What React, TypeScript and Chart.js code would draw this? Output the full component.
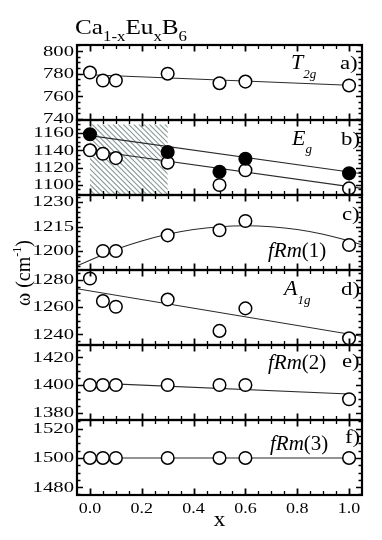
import React, { useEffect, useRef } from "react";
import { Chart, registerables } from "chart.js";

Chart.register(...registerables);

// ---------- data ----------
const xAll = [0, 0.05, 0.1, 0.3, 0.5, 0.6, 1.0];
const xC = [0.05, 0.1, 0.3, 0.5, 0.6, 1.0];
const xEgFilled = [0, 0.3, 0.5, 0.6, 1.0];

const t2g = [781, 774, 774, 780, 771.6, 773, 769.6];
const egFilled = [1158.5, 1138, 1115.3, 1130.3, 1113.4];
const egOpen = [1140, 1136, 1131, 1125.7, 1100, 1117, 1096];
const frm1 = [1200, 1200, 1209.6, 1212.7, 1218.4, 1203.7];
const a1g = [1281, 1264.4, 1260.2, 1265.5, 1242.4, 1259, 1236.9];
const frm2 = [1400, 1400, 1400, 1400, 1400, 1400, 1389.8];
const frm3 = [1500, 1500, 1500, 1500, 1500, 1500, 1500];

// fitted guide lines
const t2gFitX = [-0.05, 1.0];
const t2gFitY = [779.5, 769.8];
const egUpFitX = [0, 1.05];
const egUpFitY = [1157, 1113];
const egLowFitX = [0, 1.05];
const egLowFitY = [1140, 1096];
const frm1FitX = [-0.05, 0.1, 0.2, 0.3, 0.4, 0.5, 0.6, 0.7, 0.8, 0.9, 1.0, 1.05];
const frm1FitY = [1191, 1201, 1206.2, 1210.3, 1213.2, 1214.9, 1215.5, 1214.9, 1213.2, 1210.3, 1206.2, 1203.8];
const a1gFitX = [-0.05, 1.05];
const a1gFitY = [1273.5, 1238.5];
const frm2FitX = [0, 1.0];
const frm2FitY = [1401.5, 1393.5];
const frm3FitX = [0, 1.0];
const frm3FitY = [1500, 1500];

// hatched region in panel b
const hatchX = [0, 0.3];
const hatchY = [1088.4, 1170];

// axes
const xRange = [-0.05, 1.05];
const xTicks = [0, 0.2, 0.4, 0.6, 0.8, 1.0];
const xMinorStep = 0.05;

const panelIds = ["ya", "yb", "yc", "yd", "ye", "yf"];
const panelRanges = [
  [739, 805.4],
  [1088.4, 1175],
  [1188.4, 1234.3],
  [1232, 1287.3],
  [1374.9, 1428.7],
  [1474.6, 1526],
];
const panelTicks = [
  [740, 760, 780, 800],
  [1100, 1120, 1140, 1160],
  [1200, 1215, 1230],
  [1240, 1260, 1280],
  [1380, 1400, 1420],
  [1480, 1500, 1520],
];
const panelMinor = [5, 5, 3, 5, 5, 5];

const SERIF = '"Liberation Serif", "Times New Roman", serif';

type Seg = { t: string; size: number; italic?: boolean; dy?: number };

function drawSegs(ctx: CanvasRenderingContext2D, x: number, y: number, segs: Seg[], sx = 1) {
  let cx = x;
  ctx.textAlign = "left";
  ctx.textBaseline = "alphabetic";
  for (const s of segs) {
    ctx.font = `${s.italic ? "italic " : ""}${s.size}px ${SERIF}`;
    ctx.save();
    ctx.translate(cx, y + (s.dy || 0));
    ctx.scale(sx, 1);
    ctx.fillText(s.t, 0, 0);
    ctx.restore();
    cx += ctx.measureText(s.t).width * sx;
  }
}

const hatchPlugin = {
  id: "hatch",
  beforeDatasetsDraw(chart: any) {
    const ctx = chart.ctx as CanvasRenderingContext2D;
    const xs = chart.scales.x;
    const ys = chart.scales.yb;
    const x0 = xs.getPixelForValue(hatchX[0]);
    const x1 = xs.getPixelForValue(hatchX[1]);
    const y0 = ys.getPixelForValue(hatchY[1]);
    const y1 = ys.getPixelForValue(hatchY[0]);
    ctx.save();
    ctx.beginPath();
    ctx.rect(x0, y0, x1 - x0, y1 - y0);
    ctx.clip();
    ctx.strokeStyle = "#8c9a9a";
    ctx.lineWidth = 1.1;
    const h = y1 - y0;
    for (let s = x0 - h; s < x1 + 2; s += 5.2) {
      ctx.beginPath();
      ctx.moveTo(s, y0);
      ctx.lineTo(s + h, y1);
      ctx.stroke();
    }
    ctx.restore();
  },
  afterDraw(chart: any) {
    const ctx = chart.ctx as CanvasRenderingContext2D;
    const xs = chart.scales.x;
    const ys = chart.scales.yb;
    const x0 = xs.getPixelForValue(hatchX[0]);
    const x1 = xs.getPixelForValue(hatchX[1]);
    const y1 = ys.getPixelForValue(hatchY[0]);
    ctx.save();
    ctx.strokeStyle = "#9aa5a5";
    ctx.lineWidth = 1.4;
    ctx.beginPath();
    ctx.moveTo(x0, y1);
    ctx.lineTo(x1, y1);
    ctx.stroke();
    ctx.restore();
  },
};

const framePlugin = {
  id: "frame",
  afterDraw(chart: any) {
    const ctx = chart.ctx as CanvasRenderingContext2D;
    const xs = chart.scales.x;
    const left = chart.chartArea.left;
    const right = chart.chartArea.right;
    ctx.save();
    ctx.fillStyle = "#000";
    ctx.strokeStyle = "#000";
    panelIds.forEach((id, i) => {
      const s = chart.scales[id];
      const top = s.top;
      const bottom = s.bottom;
      const majors = panelTicks[i];
      const step = panelMinor[i];
      // y ticks (left & right, inward)
      ctx.lineWidth = 1.3;
      const start = Math.ceil(s.min / step) * step;
      for (let v = start; v <= s.max + 1e-6; v += step) {
        const major = majors.some((m) => Math.abs(m - v) < 1e-6);
        const len = major ? 6 : 3.5;
        const py = Math.round(s.getPixelForValue(v)) + 0.5;
        ctx.beginPath();
        ctx.moveTo(left, py);
        ctx.lineTo(left + len, py);
        ctx.moveTo(right, py);
        ctx.lineTo(right - len, py);
        ctx.stroke();
      }
      // x ticks (top & bottom, inward)
      for (let k = 0; k <= 20; k++) {
        const v = k * xMinorStep;
        const major = xTicks.some((m) => Math.abs(m - v) < 1e-6);
        const len = major ? 6.5 : 4;
        const px = Math.round(xs.getPixelForValue(v)) + 0.5;
        ctx.lineWidth = major ? 1.8 : 1.3;
        ctx.beginPath();
        ctx.moveTo(px, top);
        ctx.lineTo(px, top + len);
        ctx.moveTo(px, bottom);
        ctx.lineTo(px, bottom - len);
        ctx.stroke();
      }
      // frame
      ctx.lineWidth = 2.2;
      ctx.strokeRect(left, top, right - left, bottom - top);
      // y tick labels
      ctx.textAlign = "right";
      ctx.textBaseline = "middle";
      ctx.font = `15px ${SERIF}`;
      for (const t of s.ticks) {
        const py = s.getPixelForValue(t.value);
        ctx.save();
        ctx.translate(left - 3, py + 0.5);
        ctx.scale(1.38, 1);
        ctx.fillText(String(t.value), 0, 0);
        ctx.restore();
      }
    });
    // x tick labels
    ctx.textAlign = "center";
    ctx.textBaseline = "alphabetic";
    ctx.font = `15px ${SERIF}`;
    for (const t of xs.ticks) {
      const px = xs.getPixelForValue(t.value);
      ctx.save();
      ctx.translate(px, 513);
      ctx.scale(1.2, 1);
      ctx.fillText(t.value.toFixed(1), 0, 0);
      ctx.restore();
    }
    // x axis title
    ctx.save();
    ctx.translate(xs.getPixelForValue(0.5), 526);
    ctx.scale(1.15, 1);
    ctx.font = `20px ${SERIF}`;
    ctx.fillText("x", 0, 0);
    ctx.restore();

    // y axis title (rotated)
    ctx.save();
    ctx.translate(30, 306);
    ctx.rotate(-Math.PI / 2);
    drawSegs(ctx, 0, 0, [
      { t: "ω (cm", size: 20 },
      { t: "-1", size: 12, dy: -9 },
      { t: ")", size: 20 },
    ]);
    ctx.restore();

    // title
    drawSegs(ctx, 75, 34, [
      { t: "Ca", size: 21 },
      { t: "1-x", size: 14, dy: 7 },
      { t: "Eu", size: 21 },
      { t: "x", size: 14, dy: 7 },
      { t: "B", size: 21 },
      { t: "6", size: 14, dy: 7 },
    ], 1.2);

    // panel labels
    drawSegs(ctx, 291, 69, [
      { t: "T", size: 22, italic: true },
      { t: "2g", size: 13, italic: true, dy: 9 },
    ]);
    drawSegs(ctx, 292, 145, [
      { t: "E", size: 22, italic: true },
      { t: "g", size: 13, italic: true, dy: 8 },
    ]);
    drawSegs(ctx, 284, 295, [
      { t: "A", size: 22, italic: true },
      { t: "1g", size: 13, italic: true, dy: 9 },
    ]);
    drawSegs(ctx, 268, 257, [
      { t: "fRm", size: 20, italic: true },
      { t: "(1)", size: 20 },
    ], 1.05);
    drawSegs(ctx, 268, 369, [
      { t: "fRm", size: 20, italic: true },
      { t: "(2)", size: 20 },
    ], 1.05);
    drawSegs(ctx, 270, 450, [
      { t: "fRm", size: 20, italic: true },
      { t: "(3)", size: 20 },
    ], 1.05);
    const tags = [
      ["a)", 340, 69],
      ["b)", 341, 145],
      ["c)", 342, 220],
      ["d)", 341, 295],
      ["e)", 342, 367],
      ["f)", 345, 443],
    ] as const;
    for (const [t, x, y] of tags) drawSegs(ctx, x, y, [{ t, size: 19 }], 1.2);
    ctx.restore();
  },
};

function pts(xv: number[], yv: number[]) {
  return xv.map((x, i) => ({ x, y: yv[i] }));
}

function circles(label: string, axis: string, xv: number[], yv: number[], filled = false) {
  return {
    label,
    yAxisID: axis,
    data: pts(xv, yv),
    showLine: false,
    pointRadius: 6.3,
    pointBorderWidth: 1.5,
    pointBorderColor: "#000",
    pointBackgroundColor: filled ? "#000" : "#fff",
    order: filled ? 0 : 1,
  };
}

function fit(label: string, axis: string, xv: number[], yv: number[], smooth = false) {
  return {
    label,
    yAxisID: axis,
    data: pts(xv, yv),
    showLine: true,
    pointRadius: 0,
    borderColor: "#2a2a2a",
    borderWidth: 1.1,
    tension: smooth ? 0.4 : 0,
    cubicInterpolationMode: smooth ? "monotone" : "default",
    order: 3,
  };
}

export default function App() {
  const ref = useRef<HTMLCanvasElement | null>(null);
  useEffect(() => {
    document.body.style.margin = "0";
    const canvas = ref.current;
    if (!canvas) return;
    const scales: any = {
      x: {
        type: "linear",
        min: xRange[0],
        max: xRange[1],
        afterBuildTicks: (s: any) => {
          s.ticks = xTicks.map((v) => ({ value: v }));
        },
        afterFit: (s: any) => {
          s.height = 45;
        },
        ticks: { display: false },
        grid: { display: false },
        border: { display: false },
      },
    };
    panelIds.forEach((id, i) => {
      scales[id] = {
        type: "linear",
        position: "left",
        stack: "panels",
        stackWeight: 1,
        weight: 6 - i,
        offset: false,
        min: panelRanges[i][0],
        max: panelRanges[i][1],
        afterBuildTicks: (s: any) => {
          s.ticks = panelTicks[i].map((v) => ({ value: v }));
        },
        afterFit: (s: any) => {
          s.width = 77;
        },
        ticks: { display: false },
        grid: { display: false },
        border: { display: false },
      };
    });
    const chart = new Chart(canvas, {
      type: "scatter",
      data: {
        datasets: [
          fit("T2g fit", "ya", t2gFitX, t2gFitY),
          fit("Eg upper fit", "yb", egUpFitX, egUpFitY),
          fit("Eg lower fit", "yb", egLowFitX, egLowFitY),
          fit("fRm(1) fit", "yc", frm1FitX, frm1FitY, true),
          fit("A1g fit", "yd", a1gFitX, a1gFitY),
          fit("fRm(2) fit", "ye", frm2FitX, frm2FitY),
          fit("fRm(3) fit", "yf", frm3FitX, frm3FitY),
          circles("T2g", "ya", xAll, t2g),
          circles("Eg open", "yb", xAll, egOpen),
          circles("Eg filled", "yb", xEgFilled, egFilled, true),
          circles("fRm(1)", "yc", xC, frm1),
          circles("A1g", "yd", xAll, a1g),
          circles("fRm(2)", "ye", xAll, frm2),
          circles("fRm(3)", "yf", xAll, frm3),
        ] as any,
      },
      options: {
        responsive: false,
        animation: false,
        events: [],
        layout: { padding: { left: 0, top: 45, right: 20, bottom: 0 } },
        plugins: {
          legend: { display: false },
          tooltip: { enabled: false },
          title: { display: false },
        },
        scales,
      },
      plugins: [hatchPlugin, framePlugin],
    });
    return () => chart.destroy();
  }, []);
  return (
    <div style={{ width: 382, height: 540, background: "#fff" }}>
      <canvas ref={ref} width={382} height={540} style={{ display: "block" }} />
    </div>
  );
}
